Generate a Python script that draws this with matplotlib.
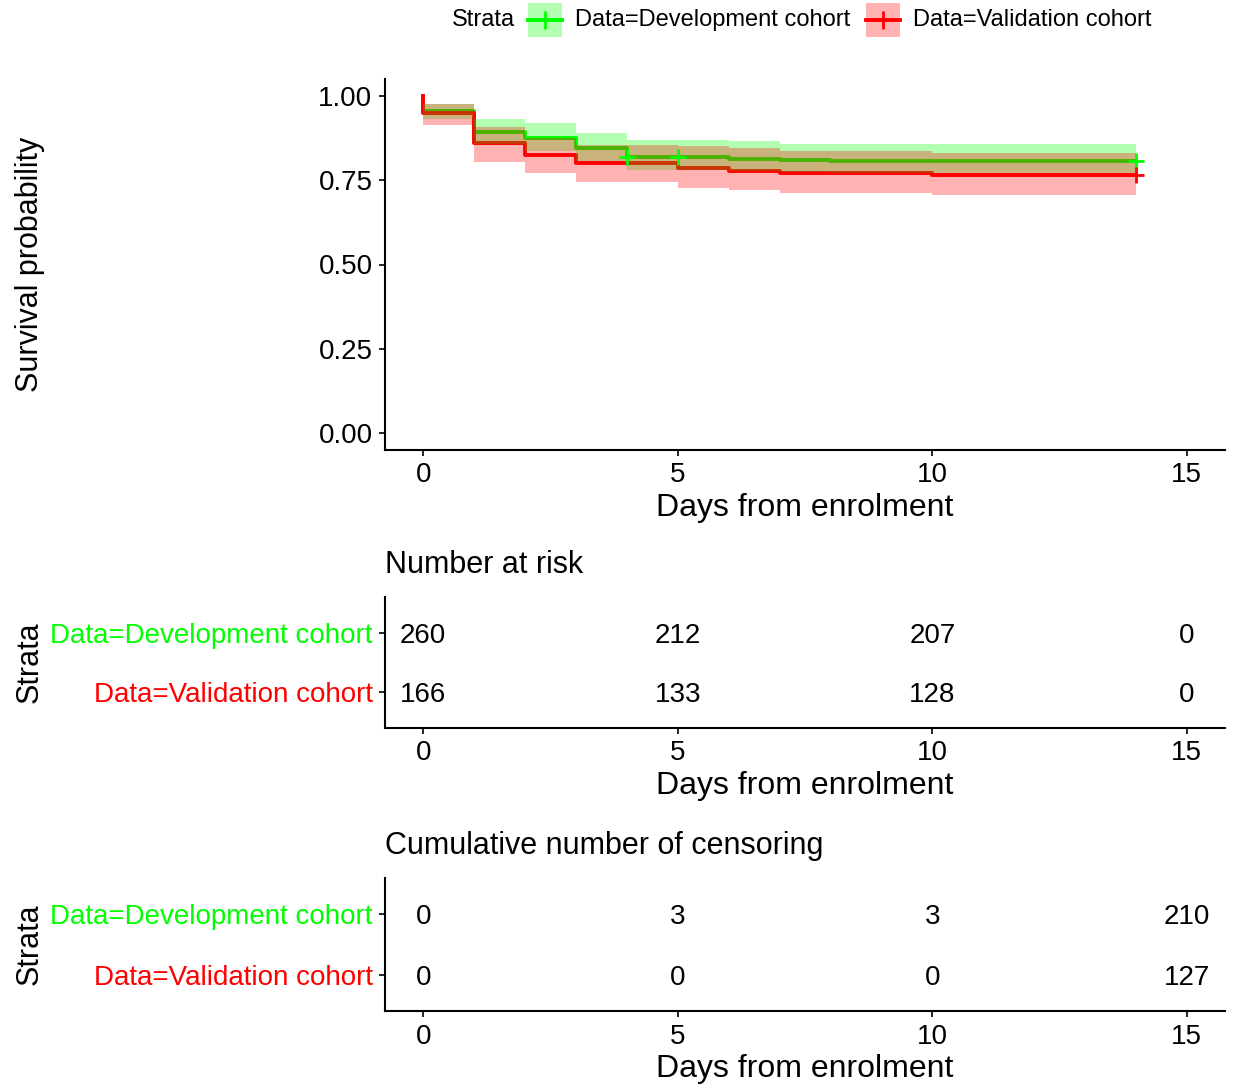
import matplotlib
matplotlib.use("Agg")
import matplotlib.pyplot as plt
from matplotlib.patches import Rectangle
from matplotlib.lines import Line2D
import numpy as np

plt.rcParams['font.family'] = ['Liberation Sans', 'DejaVu Sans']

# survival curves (value after each event time)
dev_times = [0, 1, 2, 3, 4, 6, 7, 8]
dev_surv = [0.955, 0.892, 0.874, 0.845, 0.820, 0.813, 0.810, 0.808]
dev_upper = [0.976, 0.931, 0.919, 0.891, 0.869, 0.865, 0.858, 0.858]
dev_lower = [0.932, 0.856, 0.836, 0.806, 0.781, 0.776, 0.773, 0.771]
dev_censor = [4, 5, 14]

val_times = [0, 1, 2, 3, 5, 6, 7, 10]
val_surv = [0.949, 0.860, 0.825, 0.802, 0.785, 0.778, 0.772, 0.764]
val_upper = [0.976, 0.909, 0.875, 0.855, 0.850, 0.845, 0.838, 0.830]
val_lower = [0.915, 0.805, 0.772, 0.746, 0.726, 0.721, 0.713, 0.706]
val_censor = [14]

t_end = 14

strata = ['Data=Development cohort', 'Data=Validation cohort']
colors = ['#00FF00', '#FF0000']

table_times = [0, 5, 10, 15]
risk_dev = [260, 212, 207, 0]
risk_val = [166, 133, 128, 0]
cens_dev = [0, 3, 3, 210]
cens_val = [0, 0, 0, 127]

W, H = 1233, 1085
fig = plt.figure(figsize=(W / 100, H / 100), dpi=100)


def box(x0, y_top, x1, y_bot):
    return [x0 / W, 1 - y_bot / H, (x1 - x0) / W, (y_bot - y_top) / H]


def style(ax):
    for s in ['top', 'right']:
        ax.spines[s].set_visible(False)
    for s in ['left', 'bottom']:
        ax.spines[s].set_linewidth(1.5)
    ax.tick_params(length=4, width=1.2, pad=5, labelsize=20, colors='black')
    ax.set_xlim(-0.75, 15.75)
    ax.set_xticks([0, 5, 10, 15])


def step_val(times, vals, t):
    idx = np.searchsorted(times, t, side='right') - 1
    return vals[idx]


# --- survival plot ---
ax = fig.add_axes(box(385, 79, 1225, 450))
series = [(dev_times, dev_surv, dev_upper, dev_lower, dev_censor),
          (val_times, val_surv, val_upper, val_lower, val_censor)]
for (tt, s, up, lo, cens), c in zip(series, colors):
    x = [0] + tt + [t_end]
    ax.step(x, [1.0] + s + [s[-1]], where='post', color=c, lw=2.8, zorder=2)
for (tt, s, up, lo, cens), c in zip(series, colors):
    x = [0] + tt + [t_end]
    ax.fill_between(x, [1.0] + lo + [lo[-1]], [1.0] + up + [up[-1]],
                    step='post', color=c, alpha=0.3, lw=0, zorder=3)
for (tt, s, up, lo, cens), c in zip(series, colors):
    ax.plot(cens, [step_val(tt, s, t) for t in cens], '+', color=c,
            ms=12, mew=2, zorder=4)

style(ax)
ax.set_ylim(-0.05, 1.05)
ax.set_yticks([0, 0.25, 0.5, 0.75, 1.0])
ax.set_yticklabels(['0.00', '0.25', '0.50', '0.75', '1.00'])
ax.set_xlabel('Days from enrolment', fontsize=23, labelpad=3)
ax.set_ylabel('Survival probability', fontsize=22)
ax.yaxis.set_label_coords(-0.405, 0.5)

# --- legend ---
fig.text(452 / W, 1 - 20 / H, 'Strata', fontsize=17, va='center', ha='left')
for (kx, tx), c, lab in zip([(528, 575), (866, 913)], colors, strata):
    fig.add_artist(Rectangle((kx / W, 1 - 37 / H), 34 / W, 34 / H,
                             transform=fig.transFigure, facecolor=c,
                             alpha=0.3, lw=0))
    fig.add_artist(Line2D([kx / W, (kx + 34) / W], [1 - 20 / H] * 2,
                          transform=fig.transFigure, color=c, lw=2.8))
    fig.add_artist(Line2D([(kx + 17) / W], [1 - 20 / H], marker='+',
                          transform=fig.transFigure, color=c, ms=13, mew=2))
    fig.text(tx / W, 1 - 20 / H, lab, fontsize=17, va='center', ha='left')


# --- tables ---
def table(y_top, y_bot, title, dev_vals, val_vals):
    tax = fig.add_axes(box(385, y_top, 1225, y_bot))
    style(tax)
    tax.set_ylim(0.4, 2.6)
    tax.set_yticks([2, 1])
    tax.set_yticklabels(strata, fontsize=20)
    for lbl, c in zip(tax.get_yticklabels(), colors):
        lbl.set_color(c)
    for t, d, v in zip(table_times, dev_vals, val_vals):
        tax.text(t, 2, str(d), ha='center', va='center_baseline', fontsize=20)
        tax.text(t, 1, str(v), ha='center', va='center_baseline', fontsize=20)
    tax.set_title(title, loc='left', fontsize=22, pad=17)
    tax.set_xlabel('Days from enrolment', fontsize=23, labelpad=3)
    tax.set_ylabel('Strata', fontsize=22)
    tax.yaxis.set_label_coords(-0.405, 0.5)
    return tax


table(597, 728, 'Number at risk', risk_dev, risk_val)
table(878, 1011, 'Cumulative number of censoring', cens_dev, cens_val)

fig.savefig('out.png', dpi=100)
